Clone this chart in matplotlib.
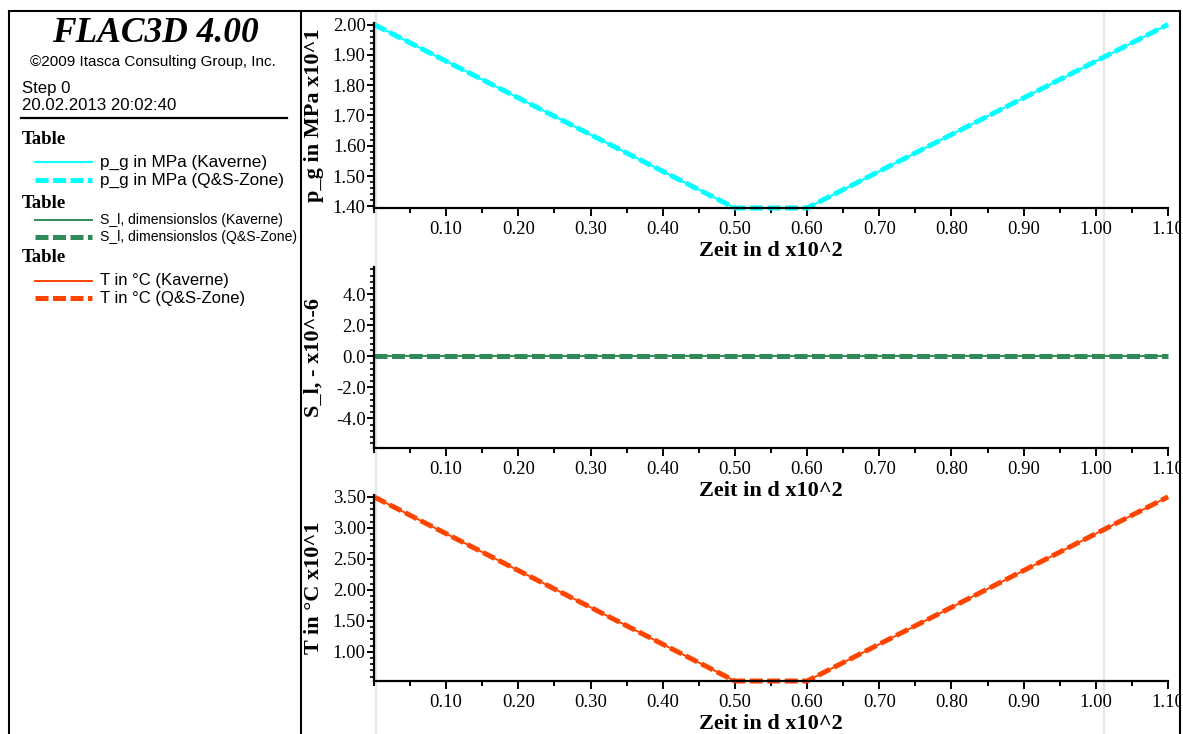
import numpy as np
import matplotlib
matplotlib.use("Agg")
import matplotlib.pyplot as plt
from matplotlib.ticker import MultipleLocator, FormatStrFormatter, AutoMinorLocator
from matplotlib.lines import Line2D

# Table data (time in d x10^2)
zeit = [0.0, 0.50, 0.60, 1.10]
p_g_kaverne = [2.00, 1.395, 1.395, 2.00]      # MPa x10^1
p_g_qs = [2.00, 1.395, 1.395, 2.00]
s_l_kaverne = [0.0, 0.0, 0.0, 0.0]            # x10^-6
s_l_qs = [0.0, 0.0, 0.0, 0.0]
t_kaverne = [3.50, 0.53, 0.53, 3.50]          # degC x10^1
t_qs = [3.50, 0.53, 0.53, 3.50]

legend_labels = [
    "p_g in MPa (Kaverne)", "p_g in MPa (Q&S-Zone)",
    "S_l, dimensionslos (Kaverne)", "S_l, dimensionslos (Q&S-Zone)",
    "T in °C (Kaverne)", "T in °C (Q&S-Zone)",
]

CYAN = "#00FFFF"
GREEN = "#2E8B57"
ORANGE = "#FF4500"

SERIF = "Liberation Serif"
SANS = "Liberation Sans"

W, H = 1183, 734
fig = plt.figure(figsize=(W / 100, H / 100), dpi=100)


def px_axes(left, top, right, bottom, **kw):
    return fig.add_axes([left / W, 1 - bottom / H, (right - left) / W, (bottom - top) / H], **kw)


# faint grid lines running through the plot column
bg = px_axes(374, 11, 1168, H)
bg.set_xlim(0, 1.10)
bg.axis("off")
for xv in (0.003, 1.012):
    bg.axvline(xv, color="#e6e6e6", lw=1.6)

DASH = (2.6, 0.9)


def style_axes(ax, top, bottom, ylim, ymajor, yfmt, ylabel):
    ax.set_facecolor("none")
    ax.set_xlim(0, 1.10)
    ax.set_ylim(*ylim)
    for s in ("top", "right"):
        ax.spines[s].set_visible(False)
    for s in ("left", "bottom"):
        ax.spines[s].set_linewidth(1.6)
    ax.xaxis.set_major_locator(MultipleLocator(0.10))
    ax.xaxis.set_minor_locator(MultipleLocator(0.05))
    ax.xaxis.set_major_formatter(FormatStrFormatter("%.2f"))
    ax.yaxis.set_major_locator(MultipleLocator(ymajor))
    ax.yaxis.set_minor_locator(AutoMinorLocator(5))
    ax.yaxis.set_major_formatter(FormatStrFormatter(yfmt))
    ax.tick_params(axis="x", which="major", direction="out", length=5.5, width=1.4,
                   pad=4, labelsize=13.5, labelfontfamily=SERIF)
    ax.tick_params(axis="x", which="minor", direction="out", length=3.8, width=1.4)
    ax.tick_params(axis="y", which="major", direction="out", length=5.0, width=1.4,
                   pad=1.0, labelsize=13.5, labelfontfamily=SERIF)
    ax.tick_params(axis="y", which="minor", direction="out", length=2.8, width=1.2)
    # no label at the origin
    ax.set_xticks([t for t in np.arange(0.10, 1.101, 0.10)])
    ax.set_xlabel("Zeit in d x10^2", fontsize=16, fontweight="bold", family=SERIF,
                  va="top")
    ax.xaxis.set_label_coords(0.5, -33 / (bottom - top))
    ax.set_ylabel(ylabel, fontsize=16, fontweight="bold", family=SERIF)
    ax.yaxis.set_label_coords(-50 / 794, 0.5)


def plot_pair(ax, y_solid, y_dashed, color):
    ax.plot(zeit, y_solid, color=color, lw=1.4, solid_capstyle="butt", clip_on=False)
    ax.plot(zeit, y_dashed, color=color, lw=3.6, dashes=DASH, clip_on=False)


ax1 = px_axes(374, 23, 1168, 208)
style_axes(ax1, 23, 208, (1.395, 2.005), 0.10, "%.2f", "p_g in MPa x10^1")
plot_pair(ax1, p_g_kaverne, p_g_qs, CYAN)

ax2 = px_axes(374, 267, 1168, 448)
style_axes(ax2, 267, 448, (-5.9, 5.75), 2.0, "%.1f", "S_l, - x10^-6")
plot_pair(ax2, s_l_kaverne, s_l_qs, GREEN)

ax3 = px_axes(374, 495, 1168, 681)
style_axes(ax3, 495, 681, (0.53, 3.53), 0.50, "%.2f", "T in °C x10^1")
plot_pair(ax3, t_kaverne, t_qs, ORANGE)

# overlay in pixel coordinates: frame and key panel
ov = px_axes(0, 0, W, H)
ov.set_xlim(0, W)
ov.set_ylim(H, 0)
ov.axis("off")
ov.set_zorder(10)
ov.add_patch(plt.Rectangle((1181, 0), 4, H, color="white", zorder=1))
frame_kw = dict(color="black", lw=1.5, zorder=2)
ov.plot([9, 1180], [11, 11], **frame_kw)
ov.plot([9, 9], [11, H], **frame_kw)
ov.plot([301, 301], [11, H], **frame_kw)
ov.plot([1180, 1180], [11, H], **frame_kw)

ov.text(155, 33, "FLAC3D 4.00", family=SERIF, fontsize=25.5, fontweight="bold",
        fontstyle="italic", ha="center", va="center")
ov.text(153, 62, "©2009 Itasca Consulting Group, Inc.", family=SANS, fontsize=11.0,
        ha="center", va="center")
ov.text(22, 88, "Step 0", family=SANS, fontsize=12.1, ha="left", va="center")
ov.text(22, 105, "20.02.2013 20:02:40", family=SANS, fontsize=12.1, ha="left", va="center")
ov.plot([21, 287], [118, 118], color="black", lw=1.6)

entry_y = [162, 180, 220, 237, 281, 298]
table_y = [140, 203, 258]
colors = [CYAN, CYAN, GREEN, GREEN, ORANGE, ORANGE]
sizes = [12.3, 12.3, 10.1, 10.1, 12.0, 12.0]

for ty in table_y:
    ov.text(22, ty, "Table", family=SERIF, fontsize=13.5, fontweight="bold",
            ha="left", va="center")
for i, (ey, lab) in enumerate(zip(entry_y, legend_labels)):
    if i % 2 == 0:
        ov.add_line(Line2D([35, 92], [ey, ey], color=colors[i], lw=1.4))
    else:
        ov.add_line(Line2D([35, 92], [ey, ey], color=colors[i], lw=3.6, dashes=DASH))
    ov.text(100, ey, lab, family=SANS, fontsize=sizes[i], ha="left", va="center")

fig.savefig("out.png", dpi=100)
